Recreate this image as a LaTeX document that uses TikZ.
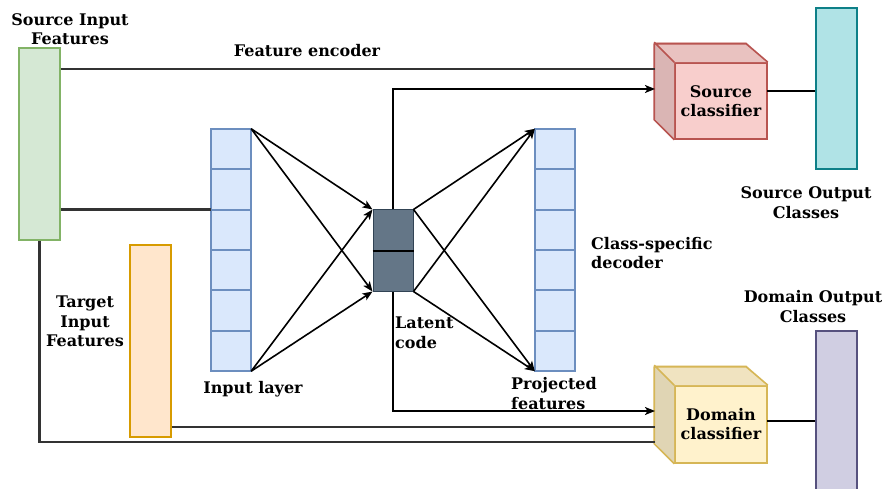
\documentclass[tikz,border=0pt]{standalone}
\usepackage{fontspec}
\setmainfont{DejaVu Serif}
\usetikzlibrary{arrows.meta,calc}
\definecolor{grnF}{HTML}{D5E8D4}\definecolor{grnS}{HTML}{82B366}
\definecolor{orgF}{HTML}{FFE6CC}\definecolor{orgS}{HTML}{D79B00}
\definecolor{bluF}{HTML}{DAE8FC}\definecolor{bluS}{HTML}{6C8EBF}
\definecolor{latF}{HTML}{647687}\definecolor{latS}{HTML}{314354}
\definecolor{redF}{HTML}{F8CECC}\definecolor{redS}{HTML}{B85450}
\definecolor{yelF}{HTML}{FFF2CC}\definecolor{yelS}{HTML}{D6B656}
\definecolor{cyaF}{HTML}{B0E3E6}\definecolor{cyaS}{HTML}{0E8088}
\definecolor{purF}{HTML}{D0CEE2}\definecolor{purS}{HTML}{56517E}
\definecolor{lineC}{HTML}{333333}
\tikzset{
  lbl/.style={font=\bfseries\fontsize{16}{19.5}\selectfont, inner sep=0pt},
  bar/.style={draw, line width=1.6pt, inner sep=0pt, minimum width=41, minimum height=#1},
  cell/.style={fill=bluF, inner sep=0pt, minimum width=40, minimum height=40.33},
  cellborder/.style={draw=bluS, line width=1.6pt},
  latcell/.style={draw=latS, fill=latF, line width=1pt, inner sep=0pt, minimum width=40, minimum height=40.5},
  front/.style={draw, line width=1.6pt, inner sep=0pt, minimum width=92, minimum height=#1, align=center, font=\bfseries\fontsize{16}{19}\selectfont},
  conn/.style={draw=lineC, line width=2.2pt},
  thin/.style={draw=black, line width=1.6pt},
  arr/.style={thin, -{Stealth[length=10pt,width=8pt,inset=2.5pt]}},
}
\begin{document}
\begin{tikzpicture}[x=1pt,y=-1pt]
\useasboundingbox (0,0) rectangle (889,489);
\fill[white] (0,0) rectangle (889,489);

% input bars
\node[bar=192, draw=grnS, fill=grnF] (src) at (39.5,144) {};
\node[bar=192, draw=orgS, fill=orgF] (tgt) at (150.5,341) {};

% input layer and projected features
\foreach \i in {1,...,6}{
  \node[cell] (in\i) at (231,{129+40.33*(\i-0.5)}) {};
  \node[cell] (pr\i) at (555,{129+40.33*(\i-0.5)}) {};
}
\foreach \i in {1,...,6}{
  \draw[cellborder] (in\i.north west) rectangle (in\i.south east);
  \draw[cellborder] (pr\i.north west) rectangle (pr\i.south east);
}
% latent
\node[latcell] (lat1) at (393,230.25) {};
\node[latcell] (lat2) at (393,270.75) {};
\draw[black, line width=2pt] (lat1.south west) -- (lat1.south east);

% cubes
\node[front=76, draw=redS, fill=redF] (sclf) at (721,101) {Source\\classifier};
\fill[redF!94!black] (sclf.north west) -- ++(-20,-20) -- ++(92,0) -- (sclf.north east) -- cycle;
\fill[redF!88!black] (sclf.north west) -- ++(-20,-20) -- ++(0,76) -- (sclf.south west) -- cycle;
\draw[redS, line width=1.6pt, line join=round] (sclf.south west) -- ++(-20,-20) -- ++(0,-76) -- ++(92,0) -- (sclf.north east) (sclf.north west) -- ++(-20,-20);

\node[front=77, draw=yelS, fill=yelF] (dclf) at (721,424.5) {Domain\\classifier};
\fill[yelF!94!black] (dclf.north west) -- ++(-20,-20) -- ++(92,0) -- (dclf.north east) -- cycle;
\fill[yelF!88!black] (dclf.north west) -- ++(-20,-20) -- ++(0,77) -- (dclf.south west) -- cycle;
\draw[yelS, line width=1.6pt, line join=round] (dclf.south west) -- ++(-20,-20) -- ++(0,-77) -- ++(92,0) -- (dclf.north east) (dclf.north west) -- ++(-20,-20);

% outputs
\node[bar=161, draw=cyaS, fill=cyaF] (sout) at (836.5,88.5) {};
\node[bar=161, draw=purS, fill=purF] (dout) at (836.5,411.5) {};

% connection points on cube left faces
\coordinate (sc1) at (655,69);
\coordinate (sc2) at (655,89);
\coordinate (dc1) at (655,411);
\coordinate (dc2) at (655,427);
\coordinate (dc3) at (655,442);
\coordinate (sco) at (767,91);
\coordinate (dco) at (767,421);

% connectors
\draw[conn] (src.east |- sc1) -- (sc1);
\draw[conn] (src.east |- in3.north) -- (in3.north west);
\draw[conn] (src.south) |- (dc3);
\draw[conn] (tgt.east |- dc2) -- (dc2);

\draw[arr] (lat1.north) |- (sc2);
\draw[arr] (lat2.south) |- (dc1);

\draw[arr] (in1.north east) -- (lat1.north west);
\draw[arr] (in1.north east) -- (lat2.south west);
\draw[arr] (in6.south east) -- (lat1.north west);
\draw[arr] (in6.south east) -- (lat2.south west);

\draw[arr] (lat1.north east) -- (pr1.north west);
\draw[arr] (lat1.north east) -- (pr6.south west);
\draw[arr] (lat2.south east) -- (pr1.north west);
\draw[arr] (lat2.south east) -- (pr6.south west);

\draw[thin] (sco) -- (sout.west |- sco);
\draw[thin] (dco) -- (dout.west |- dco);

% labels
\node[lbl, align=center] (lsrc) at (70,29) {Source Input\\Features};
\node[lbl] (lenc) at (307,51) {Feature encoder};
\node[lbl, align=center] (ltgt) at (85,321.5) {Target\\Input\\Features};
\node[lbl] (lin) at (253,389) {Input layer};
\node[lbl, align=left, anchor=west] (llat) at (395,333) {Latent\\code};
\node[lbl, align=left, anchor=west] (lproj) at (511,393.5) {Projected\\features};
\node[lbl, align=left, anchor=west] (ldec) at (591,253) {Class-specific\\decoder};
\node[lbl, align=center] (lso) at (806,202.5) {Source Output\\Classes};
\node[lbl, align=center] (ldo) at (813,306.5) {Domain Output\\Classes};
\end{tikzpicture}
\end{document}
